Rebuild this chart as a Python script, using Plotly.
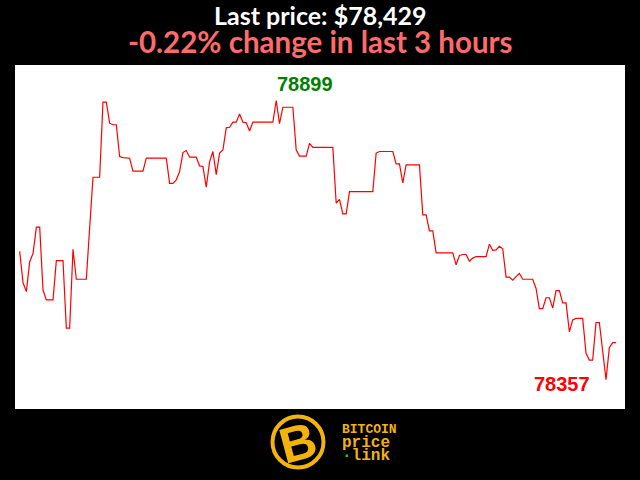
import plotly.graph_objects as go

# price per minute over the last 3 hours
prices = [
    78606, 78545, 78528, 78586, 78602, 78653, 78653, 78531, 78512, 78512,
    78512, 78588, 78588, 78588, 78457, 78457, 78610, 78552, 78552, 78552,
    78552, 78652, 78750, 78750, 78750, 78896, 78896, 78855, 78852, 78852,
    78790, 78788, 78787, 78787, 78762, 78762, 78762, 78762, 78787, 78787,
    78787, 78787, 78787, 78787, 78787, 78738, 78738, 78745, 78761, 78798,
    78802, 78789, 78789, 78789, 78772, 78771, 78731, 78780, 78800, 78755,
    78797, 78803, 78846, 78847, 78857, 78857, 78873, 78857, 78856, 78840,
    78857, 78857, 78857, 78857, 78857, 78857, 78857, 78899, 78854, 78886,
    78886, 78886, 78886, 78803, 78791, 78791, 78791, 78816, 78808, 78808,
    78808, 78808, 78808, 78808, 78808, 78700, 78707, 78679, 78679, 78722,
    78722, 78722, 78722, 78722, 78722, 78722, 78722, 78797, 78800, 78800,
    78800, 78800, 78800, 78776, 78776, 78739, 78774, 78774, 78774, 78774,
    78774, 78677, 78677, 78646, 78646, 78603, 78603, 78603, 78603, 78603,
    78603, 78580, 78598, 78600, 78600, 78587, 78593, 78596, 78596, 78596,
    78596, 78620, 78608, 78609, 78616, 78611, 78556, 78556, 78550, 78557,
    78563, 78552, 78552, 78552, 78552, 78534, 78495, 78495, 78516, 78516,
    78496, 78530, 78530, 78506, 78506, 78450, 78473, 78476, 78476, 78476,
    78408, 78395, 78395, 78468, 78468, 78412, 78357, 78419, 78429, 78429,
]
minutes = list(range(len(prices)))

title_text = "Last price: $78,429"
subtitle_text = "-0.22% change in last 3 hours"

i_max = max(range(len(prices)), key=lambda i: prices[i])
i_min = min(range(len(prices)), key=lambda i: prices[i])

fig = go.Figure()
fig.add_trace(go.Scatter(x=minutes, y=prices, mode="lines",
                         line=dict(color="#ff0000", width=1.2),
                         hoverinfo="skip"))

gold = "#f2b40c"
heading = ("<b><span style='font-size:25px;color:white'>" + title_text + "</span><br>"
           "<span style='font-size:29.5px;color:#ff6b6b'>" + subtitle_text + "</span></b>")
logo_text = ("<b><span style='font-size:13px'>BITCOIN</span><br>"
             "<span style='font-size:16px'>price</span><br>"
             "<span style='font-size:16px'><span style='color:#2ecc40'>·</span>link</span></b>")

fig.update_layout(
    width=640, height=480,
    margin=dict(l=15, r=15, t=65, b=71),
    paper_bgcolor="black", plot_bgcolor="white",
    showlegend=False,
    xaxis=dict(range=[-1.41, 181.7], visible=False, fixedrange=True),
    yaxis=dict(range=[78300, 78968], visible=False, fixedrange=True),
    annotations=[
        dict(text=heading, xref="paper", yref="paper",
             x=0.5, y=(409 - 29) / 344, xanchor="center", yanchor="middle",
             showarrow=False, align="center",
             font=dict(family="Lato", size=21.5, color="white")),
        dict(text="<b>%d</b>" % prices[i_max], x=minutes[i_max], y=prices[i_max],
             xshift=29, yshift=17, showarrow=False,
             font=dict(family="Liberation Sans", size=20, color="#008000")),
        dict(text="<b>%d</b>" % prices[i_min], x=minutes[i_min], y=prices[i_min],
             xshift=-44, yshift=-4, showarrow=False,
             font=dict(family="Liberation Sans", size=20, color="#ff0000")),
        # logo
        dict(text="<b>B</b>", xref="paper", yref="paper",
             x=(298 - 15) / 610, y=(409 - 443) / 344, xanchor="center", yanchor="middle",
             showarrow=False, textangle=-15,
             font=dict(family="Liberation Sans", size=50, color=gold)),
        dict(text=logo_text, xref="paper", yref="paper",
             x=(340 - 15) / 610, y=(409 - 443) / 344, xanchor="left", yanchor="middle",
             showarrow=False, align="left",
             font=dict(family="Liberation Mono", size=10.5, color=gold)),
    ],
    shapes=[
        dict(type="circle", xref="paper", yref="paper",
             x0=(272.5 - 15) / 610, x1=(323.5 - 15) / 610,
             y0=(409 - 467.5) / 344, y1=(409 - 416.5) / 344,
             line=dict(color=gold, width=4), fillcolor="black", layer="below"),
    ],
)

fig.write_html("out.html", config={"displayModeBar": False},
               post_script="document.body.style.margin='0px';document.body.style.background='black';")
